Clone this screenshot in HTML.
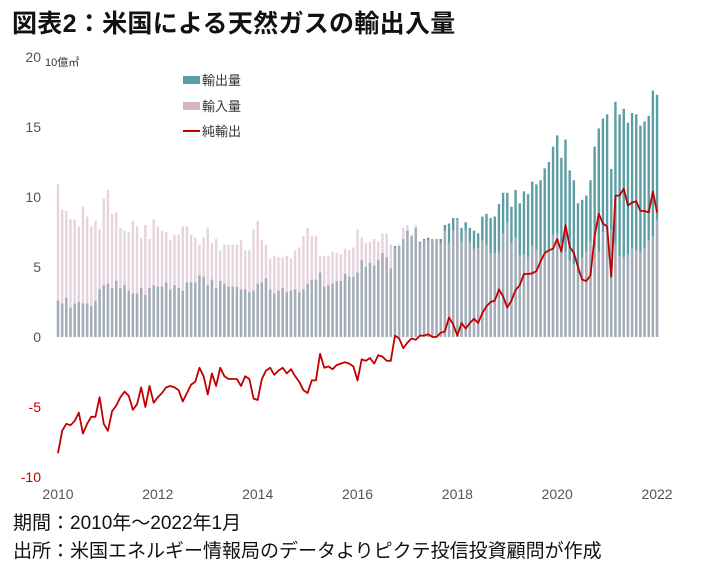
<!DOCTYPE html>
<html><head><meta charset="utf-8">
<style>
body{margin:0;background:#fff;width:719px;height:571px;overflow:hidden;font-family:"Liberation Sans","Noto Sans CJK JP",sans-serif;}
#title{position:absolute;left:12px;top:4px;font-size:25px;font-weight:bold;color:#111;letter-spacing:0.3px;}
.foot{position:absolute;left:13px;font-size:19px;color:#111;}
svg{position:absolute;left:0;top:0;}
</style></head><body>
<div id="title">図表2：米国による天然ガスの輸出入量</div>
<div class="foot" style="top:508px">期間：2010年～2022年1月</div>
<div class="foot" style="top:536px">出所：米国エネルギー情報局のデータよりピクテ投信投資顧問が作成</div>
<svg id="chart" width="719" height="571"></svg>
<script>
const exportsData=[2.6,2.4,2.8,2.1,2.4,2.5,2.4,2.4,2.2,2.6,3.4,3.7,3.8,3.5,4.0,3.5,3.7,3.3,3.1,3.1,3.5,3.0,3.5,3.7,3.6,3.6,3.9,3.4,3.7,3.5,3.3,3.9,3.9,3.9,
4.4,4.3,3.7,4.1,3.5,4.0,3.8,3.6,3.6,3.6,3.4,3.4,3.2,3.3,3.8,3.9,4.2,3.4,3.1,3.3,3.5,3.2,3.3,3.4,3.2,3.4,3.8,4.1,4.1,4.6,3.6,3.7,3.8,4.0,4.0,4.5,4.3,4.3,
4.6,5.5,5.0,5.3,5.1,5.5,6.0,5.7,4.9,6.5,6.5,7.0,7.6,7.2,7.8,6.8,7.0,7.1,7.0,7.0,7.0,8.0,8.1,8.5,8.5,7.8,8.2,7.8,7.6,7.4,8.6,8.8,8.5,8.6,9.5,10.3,
10.3,9.3,10.5,9.55,10.4,10.2,11.1,10.9,11.2,12.05,12.5,13.6,14.4,12.8,14.1,11.9,11.2,9.55,9.8,10.1,11.2,13.6,14.9,15.6,15.9,12.0,16.8,15.9,16.3,15.3,16.0,15.9,15.1,15.4,15.8,17.6,17.3];
const importsData=[10.9,9.1,9.0,8.4,8.4,7.9,9.3,8.6,7.9,8.3,7.7,9.9,10.5,8.8,8.9,7.8,7.6,7.5,8.3,7.9,7.1,8.0,7.0,8.4,7.9,7.6,7.5,6.9,7.3,7.3,7.9,7.9,7.3,7.1,
6.6,7.1,7.8,6.7,7.0,6.2,6.6,6.6,6.6,6.6,6.9,6.2,6.2,7.7,8.3,6.9,6.6,5.6,5.8,5.7,5.7,5.8,5.6,6.2,6.4,7.2,7.8,7.2,7.2,5.8,5.8,5.8,6.1,6.0,5.9,6.3,6.2,6.4,
7.7,7.1,6.7,6.8,7.0,6.8,7.4,7.4,6.6,6.4,6.6,7.8,8.0,7.3,8.0,6.7,6.9,6.9,7.0,7.0,6.7,7.6,6.7,7.6,8.4,6.8,7.6,6.8,6.3,6.4,6.9,6.6,6.0,6.0,6.1,7.4,
8.2,6.7,7.15,5.85,5.9,5.7,6.55,6.2,5.8,6.05,6.3,7.3,7.4,6.7,6.1,5.45,5.2,4.55,5.7,6.1,6.8,6.4,6.1,7.5,8.0,7.7,6.7,5.8,5.7,5.9,6.4,6.2,6.1,6.4,6.9,7.2,8.4];
const yTicks=[20,15,10,5,0,-5,-10];
const xTicks=[2010,2012,2014,2016,2018,2020,2022];
const legendLabels=["輸出量","輸入量","純輸出"];

const NS="http://www.w3.org/2000/svg";
const svg=document.getElementById('chart');
function X(i){return 58+i*4.16;}
function Y(v){return 337-v*14;}
function XY(year){return 58+(year-2010)*12*4.16;}
function mk(tag,attrs,parent){const e=document.createElementNS(NS,tag);for(const k in attrs)e.setAttribute(k,attrs[k]);(parent||svg).appendChild(e);return e;}

for(const t of yTicks){
  const el=mk('text',{x:41,y:Y(t)+5,'text-anchor':'end','font-size':'14',fill:t<0?'#c00000':'#555'});
  el.textContent=t;
  
  
}
const unit=mk('text',{x:45,y:66,'font-size':'11',fill:'#333'});unit.textContent='10億㎥';


for(const t of xTicks){
  const el=mk('text',{x:XY(t),y:499,'text-anchor':'middle','font-size':'14',fill:'#555'});
  el.textContent=t;
  
  
}
const bw=2.4;
exportsData.forEach((v,i)=>{
  const r=mk('rect',{x:X(i)-bw/2,y:Y(v),width:bw,height:v*14,fill:'#5c9ea4'});
  
  
});
importsData.forEach((v,i)=>{
  const r=mk('rect',{x:X(i)-bw/2,y:Y(v),width:bw,height:v*14,fill:'#d6b6c6','fill-opacity':'0.6'});
  
  
});
const net=exportsData.map((v,i)=>v-importsData[i]);
const line=mk('polyline',{points:net.map((v,i)=>X(i)+','+Y(v)).join(' '),fill:'none',stroke:'#c00000','stroke-width':'1.8','stroke-linejoin':'round'});



const lg=mk('g',{});


const ly=[80,106,131];
const lc=['#5c9ea4','#d6b6c6','#c00000'];
legendLabels.forEach((s,i)=>{
  if(i<2){const r=mk('rect',{x:183,y:ly[i]-4,width:17,height:8,fill:lc[i]},lg);}
  else{const r=mk('line',{x1:183,x2:200,y1:ly[i],y2:ly[i],stroke:lc[i],'stroke-width':'2'},lg);}
  const t=mk('text',{x:202,y:ly[i]+5,'font-size':'13',fill:'#333'},lg);t.textContent=s;
  
  
});
</script>
</body></html>
